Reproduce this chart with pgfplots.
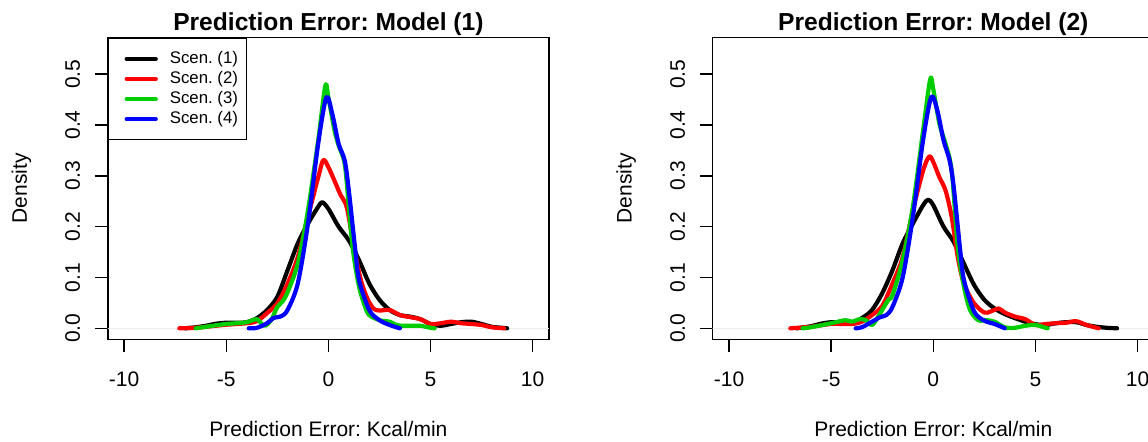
\documentclass[border=0pt]{standalone}
\usepackage{fontspec}
\setmainfont{Liberation Sans}
\usepackage{pgfplots}
\pgfplotsset{compat=1.18}
\definecolor{rgreen}{HTML}{00CD00}

% R-like density panel
\pgfplotsset{rdens/.style={
  scale only axis, width=220.6pt, height=150.8pt,
  xmin=-10.8, xmax=10.8, ymin=-0.0216, ymax=0.5716,
  axis line style={line width=0.75pt},
  tick style={line width=0.75pt, black},
  tick align=outside, major tick length=6.5pt,
  xtick pos=bottom, ytick pos=left,
  xtick={-10,-5,0,5,10}, xticklabels={-10,-5,0,5,10},
  ytick={0,0.1,0.2,0.3,0.4,0.5}, yticklabels={0.0,0.1,0.2,0.3,0.4,0.5},
  tick label style={font=\fontsize{10.5}{12}\selectfont, inner sep=0pt},
  xticklabel style={anchor=base},
  yticklabel style={rotate=90, anchor=base},
  xticklabel shift=17.35pt, yticklabel shift=7.4pt,
  label style={font=\fontsize{10.5}{12}\selectfont, inner sep=0pt},
  xlabel={Prediction Error: Kcal/min}, ylabel={Density},
  xlabel style={at={([yshift=-48.7pt]axis description cs:0.5,0)}, anchor=base},
  ylabel style={at={([xshift=-40.5pt]axis description cs:0,0.5)}, anchor=base},
  every axis title/.style={at={([yshift=3.35pt]axis description cs:0.5,1)}, anchor=base,
    inner sep=0pt, font=\bfseries\fontsize{12.3}{14}\selectfont},
  every axis plot/.append style={line width=2.1pt, line cap=round, line join=round, smooth, tension=0.5},
  legend image code/.code={\path (0pt,0pt); \draw[##1] (3.85pt,0pt) -- (18.4pt,0pt);},
  legend cell align=left,
  legend style={at={(0,1)}, anchor=north west, draw=black, line width=0.75pt,
    inner xsep=4.15pt, inner ysep=6.2pt, row sep=2.05pt, column sep=6pt,
    font=\fontsize{8.4}{10}\selectfont,
    nodes={inner sep=0pt, text height=6.2pt, text depth=1.8pt}},
}}

\begin{document}
\frenchspacing
\begin{tikzpicture}
\path[use as bounding box] (0pt,0pt) rectangle (574pt,-221pt);
\clip (0pt,0pt) rectangle (574pt,-221pt);

\begin{axis}[rdens, at={(53.9pt,-169.65pt)}, anchor=south west,
  title={Prediction Error: Model (1)}]
\addplot[black!7, line width=0.5pt, sharp plot, forget plot] coordinates {(-10.8,0) (10.8,0)};
\addplot[black] coordinates {(-7.0,0) (-6.5,0.002) (-6,0.005) (-5.5,0.009) (-5,0.011) (-4.5,0.011) (-4,0.012) (-3.5,0.02) (-3,0.036) (-2.5,0.062) (-2,0.114) (-1.5,0.167) (-1,0.206) (-0.5,0.239) (-0.3,0.248) (0,0.235) (0.5,0.2) (1,0.173) (1.5,0.134) (2,0.088) (2.5,0.056) (3,0.036) (3.5,0.026) (4,0.023) (4.5,0.018) (5,0.0085) (5.5,0.005) (6,0.0085) (6.5,0.012) (7,0.013) (7.5,0.0085) (8,0.003) (8.5,0.001) (8.75,0)};
\addplot[red] coordinates {(-7.3,0) (-6.5,0.001) (-6,0.003) (-5,0.007) (-4,0.01) (-3.5,0.014) (-3,0.03) (-2.5,0.049) (-2,0.088) (-1.5,0.14) (-1,0.219) (-0.5,0.297) (-0.25,0.331) (0,0.317) (0.3,0.29) (0.6,0.262) (0.9,0.238) (1.22,0.166) (1.55,0.101) (1.87,0.062) (2.2,0.039) (2.5,0.035) (3,0.036) (3.5,0.026) (4,0.022) (4.5,0.018) (5,0.0085) (5.5,0.01) (6,0.013) (6.5,0.01) (7,0.0085) (7.5,0.0065) (8,0.002) (8.6,0)};
\addplot[rgreen] coordinates {(-6.5,0) (-6,0.003) (-5.5,0.006) (-5,0.0085) (-4.5,0.01) (-4,0.012) (-3.5,0.018) (-3.3,0.01) (-3.1,0.005) (-2.8,0.016) (-2.5,0.042) (-2.1,0.062) (-1.5,0.127) (-1,0.232) (-0.5,0.37) (-0.15,0.477) (0,0.454) (0.3,0.389) (0.5,0.36) (0.8,0.323) (1,0.239) (1.2,0.154) (1.5,0.082) (1.8,0.042) (2,0.026) (2.5,0.016) (3,0.013) (3.3,0.007) (3.6,0.005) (4,0.005) (4.5,0.005) (5,0.001) (5.2,0)};
\addplot[blue] coordinates {(-3.9,0) (-3.5,0.001) (-3,0.01) (-2.7,0.02) (-2.3,0.024) (-2,0.036) (-1.5,0.088) (-1,0.206) (-0.5,0.363) (-0.1,0.454) (0.2,0.42) (0.5,0.363) (0.8,0.33) (1,0.271) (1.3,0.16) (1.5,0.095) (2,0.036) (2.5,0.016) (3,0.0065) (3.5,0)};
\legend{Scen. (1),Scen. (2),Scen. (3),Scen. (4)}
\end{axis}

\begin{axis}[rdens, at={(356.35pt,-169.65pt)}, anchor=south west,
  title={Prediction Error: Model (2)}]
\addplot[black!7, line width=0.5pt, sharp plot, forget plot] coordinates {(-10.8,0) (10.8,0)};
\addplot[black] coordinates {(-6.7,0) (-6,0.004) (-5.5,0.009) (-5,0.012) (-4.5,0.011) (-4,0.011) (-3.5,0.02) (-3,0.036) (-2.5,0.069) (-2,0.114) (-1.5,0.167) (-1,0.206) (-0.5,0.242) (-0.25,0.253) (0,0.242) (0.5,0.2) (1,0.17) (1.5,0.127) (2,0.085) (2.5,0.056) (3,0.039) (3.5,0.028) (4,0.02) (4.5,0.013) (5,0.008) (5.5,0.0065) (6,0.01) (6.5,0.012) (7,0.012) (7.5,0.0065) (8,0.003) (8.5,0.001) (9,0)};
\addplot[red] coordinates {(-7,0) (-6,0.003) (-5,0.0085) (-4,0.0085) (-3.5,0.013) (-3,0.026) (-2.5,0.044) (-2,0.088) (-1.5,0.14) (-1,0.232) (-0.5,0.31) (-0.2,0.338) (0,0.327) (0.3,0.297) (0.6,0.271) (0.9,0.219) (1.2,0.14) (1.5,0.088) (2,0.049) (2.5,0.031) (2.8,0.033) (3.2,0.039) (3.5,0.031) (4,0.023) (4.5,0.018) (5,0.0065) (5.5,0.0085) (6,0.01) (6.5,0.011) (7,0.014) (7.5,0.0065) (8,0.001) (8.1,0)};
\addplot[rgreen] coordinates {(-6.4,0) (-6,0.002) (-5,0.01) (-4.3,0.016) (-4,0.013) (-3.6,0.018) (-3.3,0.016) (-3,0.0065) (-2.7,0.023) (-2.2,0.056) (-2,0.065) (-1.5,0.134) (-1,0.239) (-0.5,0.389) (-0.15,0.49) (0,0.47) (0.3,0.402) (0.6,0.363) (0.9,0.31) (1.2,0.16) (1.5,0.082) (1.8,0.036) (2.2,0.016) (2.6,0.016) (3,0.013) (3.5,0.002) (4,0.001) (4.5,0.005) (5,0.0065) (5.5,0.001) (5.6,0)};
\addplot[blue] coordinates {(-3.8,0) (-3.5,0.002) (-3,0.013) (-2.6,0.022) (-2.3,0.026) (-2,0.042) (-1.5,0.1) (-1,0.219) (-0.5,0.37) (-0.1,0.455) (0.2,0.428) (0.5,0.37) (0.8,0.33) (1,0.278) (1.3,0.16) (1.5,0.095) (2,0.033) (2.5,0.015) (3,0.0085) (3.5,0)};
\end{axis}
\end{tikzpicture}
\end{document}
